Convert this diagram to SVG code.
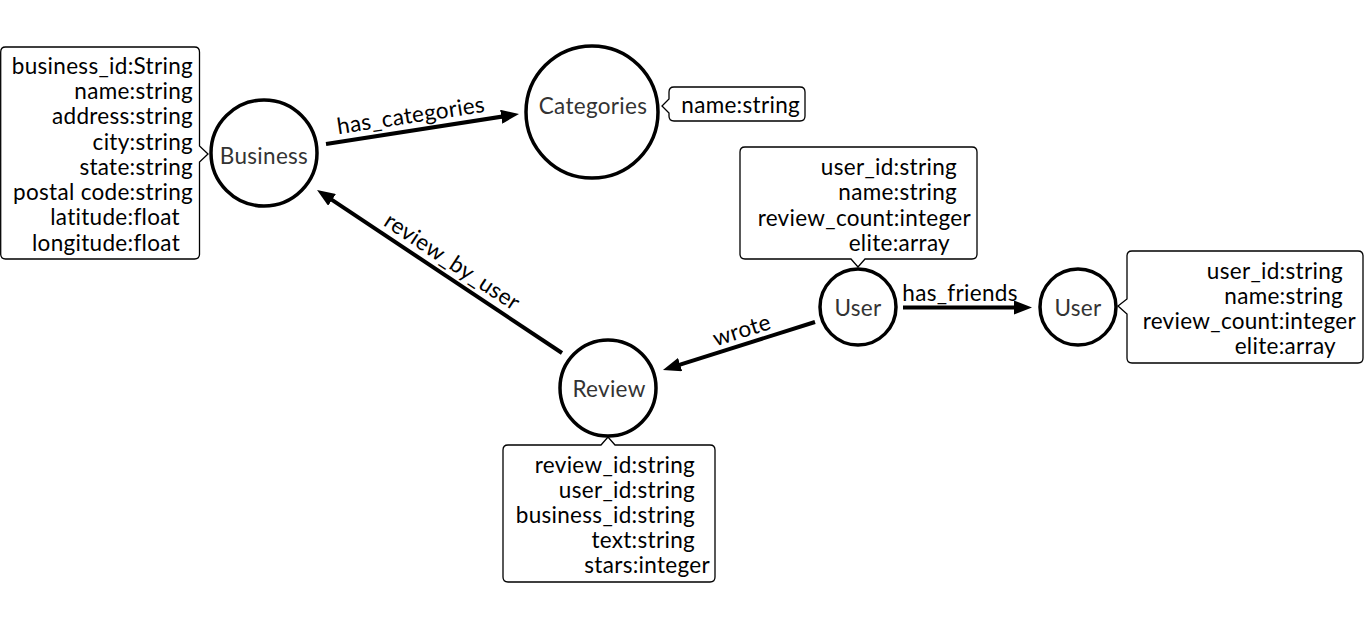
<svg xmlns="http://www.w3.org/2000/svg" width="1364" height="621" viewBox="0 0 1364 621">
<style>
  .node circle { fill: #fff; stroke: #000; stroke-width: 3.5; }
  .node .lbl { font-family: Lato, "Liberation Sans", sans-serif; font-size: 22.5px; letter-spacing: 0.3px; fill: #333; text-anchor: middle; }
  .box { fill: #fff; stroke: #000; stroke-width: 1.3; }
  .attr { font-family: Lato, "Liberation Sans", sans-serif; font-size: 22.5px; letter-spacing: 0.3px; fill: #000; text-anchor: end; }
  .edge { stroke: #000; stroke-width: 4; fill: none; marker-end: url(#arrow); }
  .elbl { font-family: Lato, "Liberation Sans", sans-serif; font-size: 22.5px; letter-spacing: 0.3px; fill: #000; text-anchor: middle; }
</style>
<defs>
  <marker id="arrow" markerUnits="userSpaceOnUse" viewBox="0 0 18 14" markerWidth="18" markerHeight="14" refX="10" refY="7" orient="auto">
    <path d="M0,0 L18,7 L0,14 Z" fill="#000"/>
  </marker>
</defs>
<rect width="1364" height="621" fill="#fff"/>
<g id="connectors">
  <line class="edge" x1="326" y1="144" x2="511.1" y2="115.2"/>
  <text class="elbl" transform="translate(412,123) rotate(-8.7)">has_categories</text>
  <line class="edge" x1="562" y1="353" x2="323.7" y2="194.4"/>
  <text class="elbl" transform="translate(448,268) rotate(33.4)">review_by_user</text>
  <line class="edge" x1="815" y1="322" x2="670.6" y2="367.6"/>
  <text class="elbl" transform="translate(744,337.5) rotate(-17.6)">wrote</text>
  <line class="edge" x1="903" y1="307.5" x2="1024" y2="307.5"/>
  <text class="elbl" x="960" y="301">has_friends</text>
</g>
<g id="business" class="node">
  <circle cx="264" cy="153" r="53"/>
  <text class="lbl" x="264" y="163.5">Business</text>
  <path class="box" d="M5.5,47 H194.5 Q199.5,47 199.5,52 V146 L208,154 L199.5,162 V254 Q199.5,259 194.5,259 H5.5 Q0.7,259 0.7,254 V52 Q0.7,47 5.5,47 Z"/>
  <text class="attr" x="193" y="73.5">business_id:String</text>
  <text class="attr" x="193" y="98.5">name:string</text>
  <text class="attr" x="193" y="124">address:string</text>
  <text class="attr" x="193" y="149.5">city:string</text>
  <text class="attr" x="193" y="174.5">state:string</text>
  <text class="attr" x="193" y="200">postal code:string</text>
  <text class="attr" x="180" y="225">latitude:float</text>
  <text class="attr" x="180" y="250.5">longitude:float</text>
</g>
<g id="categories" class="node">
  <circle cx="592" cy="112" r="66"/>
  <text class="lbl" x="593" y="113.5">Categories</text>
  <path class="box" d="M674,87 H800 Q805,87 805,92 V116 Q805,121 800,121 H674 Q669,121 669,116 V113 L662,106 L669,99 V92 Q669,87 674,87 Z"/>
  <text class="attr" x="800" y="113">name:string</text>
</g>
<g id="user1" class="node">
  <circle cx="858" cy="307" r="38"/>
  <text class="lbl" x="858" y="316">User</text>
  <path class="box" d="M745,147 H972 Q977,147 977,152 V254 Q977,259 972,259 H865 L858,267 L851,259 H745 Q740,259 740,254 V152 Q740,147 745,147 Z"/>
  <text class="attr" x="957" y="174.5">user_id:string</text>
  <text class="attr" x="957" y="200">name:string</text>
  <text class="attr" x="971" y="225.5">review_count:integer</text>
  <text class="attr" x="950" y="251">elite:array</text>
</g>
<g id="user2" class="node">
  <circle cx="1078" cy="307" r="38"/>
  <text class="lbl" x="1078" y="316">User</text>
  <path class="box" d="M1132,251 H1358 Q1363,251 1363,256 V358 Q1363,363 1358,363 H1132 Q1127,363 1127,358 V314 L1118,306 L1127,299 V256 Q1127,251 1132,251 Z"/>
  <text class="attr" x="1343" y="279">user_id:string</text>
  <text class="attr" x="1343" y="304">name:string</text>
  <text class="attr" x="1356" y="329">review_count:integer</text>
  <text class="attr" x="1336" y="354">elite:array</text>
</g>
<g id="review" class="node">
  <circle cx="608" cy="388" r="48"/>
  <text class="lbl" x="609" y="396.5">Review</text>
  <path class="box" d="M508,445 H601 L608,437 L615,445 H710 Q715,445 715,450 V577 Q715,582 710,582 H508 Q503,582 503,577 V450 Q503,445 508,445 Z"/>
  <text class="attr" x="695" y="473">review_id:string</text>
  <text class="attr" x="695" y="498">user_id:string</text>
  <text class="attr" x="695" y="523">business_id:string</text>
  <text class="attr" x="695" y="548">text:string</text>
  <text class="attr" x="710" y="573">stars:integer</text>
</g>
</svg>
